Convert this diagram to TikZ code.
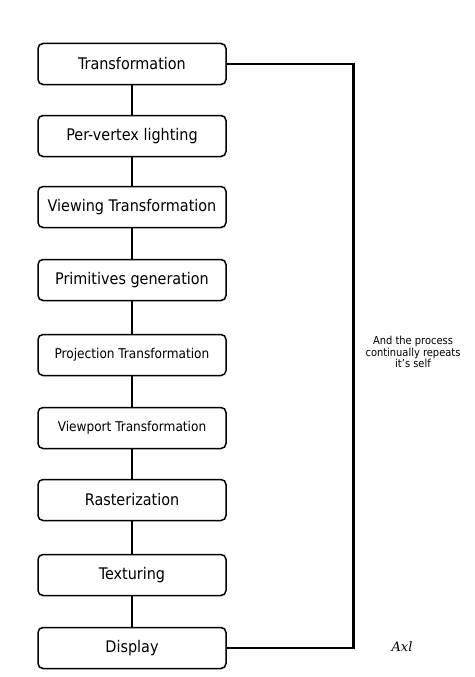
\documentclass[tikz,border=0pt]{standalone}
\usepackage{fontspec}
\setmainfont{DejaVu Sans Condensed}
\usetikzlibrary{positioning}

\begin{document}
\begin{tikzpicture}[x=1pt,y=-1pt,
    stage/.style={draw,line width=1.5pt,rounded corners=5pt,minimum width=188pt,
      minimum height=41pt,inner sep=0pt},
    big/.style={font=\fontsize{16}{19}\selectfont},
    small/.style={font=\fontsize{13.5}{16}\selectfont},
    link/.style={line width=2.8pt}]
  \useasboundingbox (0,0) rectangle (474,677);
  % pipeline stages
  \foreach \n/\y/\lbl/\sz in {
      1/64/Transformation/big,
      2/136/Per-vertex lighting/big,
      3/207/Viewing Transformation/big,
      4/280/Primitives generation/big,
      5/355/Projection Transformation/small,
      6/428/Viewport Transformation/small,
      7/500/Rasterization/big,
      8/575/Texturing/big,
      9/648/Display/big}{
    \node[stage,\sz] (s\n) at (132,\y) {\lbl};
  }
  \foreach \a/\b in {1/2,2/3,3/4,4/5,5/6,6/7,7/8,8/9}
    \draw[link] (s\a) -- (s\b);
  % loop back
  \draw[link] (s1.east) -- ++(127,0) |- (s9.east);
  \node[align=center,font=\fontsize{11}{11.5}\selectfont] (note) at (413,352)
    {And the process\\continually repeats\\it's self};
  \node[font=\fontspec{DejaVu Serif}\itshape\fontsize{13}{15}\selectfont] (sig) at (402,647) {Axl};
\end{tikzpicture}
\end{document}
